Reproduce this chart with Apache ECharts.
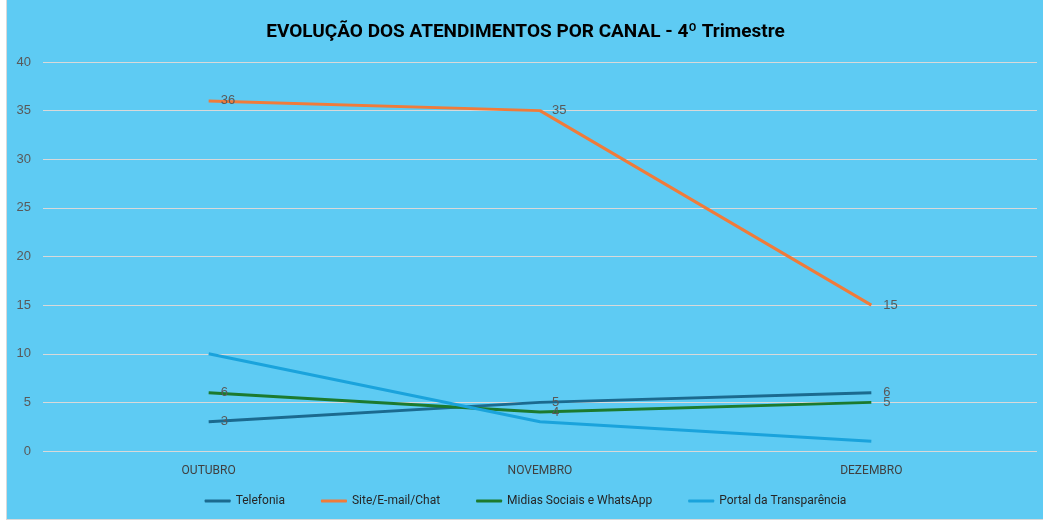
<!DOCTYPE html>
<html>
<head>
<meta charset="utf-8">
<script src="https://cdn.jsdelivr.net/npm/echarts@6/dist/echarts.min.js"></script>
<style>
  html, body { margin: 0; padding: 0; background: #fff; }
  #main { position: absolute; left: 6px; top: 0; width: 1037px; height: 519px;
          background: #5ECBF3; border-left: 1px solid #d9d9d9; border-bottom: 1px solid #d9d9d9; }
</style>
</head>
<body>
<div id="main"></div>
<script>
  var meses = ['OUTUBRO', 'NOVEMBRO', 'DEZEMBRO'];
  var telefonia = [3, 5, 6];
  var siteEmailChat = [36, 35, 15];
  var midiasSociais = [6, 4, 5];
  var portalTransparencia = [10, 3, 1];

  var myChart = echarts.init(document.getElementById('main'));

  function serie(nome, dados, cor, comLabel) {
    return {
      name: nome,
      type: 'line',
      data: dados,
      symbol: 'circle',
      symbolSize: 0,
      showSymbol: true,
      lineStyle: { width: 3, color: cor },
      itemStyle: { color: cor },
      label: {
        show: comLabel,
        position: 'right',
        distance: 12,
        color: '#595959',
        fontSize: 13,
        fontFamily: 'Liberation Sans'
      }
    };
  }

  var option = {
    animation: false,
    title: {
      text: 'EVOLUÇÃO DOS ATENDIMENTOS POR CANAL - 4º Trimestre',
      left: 'center',
      top: 18,
      textStyle: { fontSize: 19, fontWeight: 'bold', color: '#000', fontFamily: 'Roboto' }
    },
    legend: {
      bottom: 7,
      itemWidth: 26,
      itemHeight: 3,
      itemGap: 36,
      icon: 'roundRect',
      textStyle: { fontSize: 12, color: '#262626', fontFamily: 'Roboto' },
      data: ['Telefonia', 'Site/E-mail/Chat', 'Midias Sociais e WhatsApp', 'Portal da Transparência']
    },
    grid: { left: 36, right: 7, top: 62, bottom: 68 },
    xAxis: {
      type: 'category',
      data: meses,
      boundaryGap: true,
      axisLine: { show: false },
      axisTick: { show: false },
      axisLabel: { color: '#404040', fontSize: 12, margin: 14, fontFamily: 'Roboto' }
    },
    yAxis: {
      type: 'value',
      min: 0,
      max: 40,
      interval: 5,
      axisLabel: { color: '#595959', fontSize: 13, margin: 12, fontFamily: 'Liberation Sans' },
      splitLine: { lineStyle: { color: '#d9d9d9', width: 1 } }
    },
    series: [
      serie('Telefonia', telefonia, '#1B6A8F', true),
      serie('Site/E-mail/Chat', siteEmailChat, '#F07B3A', true),
      serie('Midias Sociais e WhatsApp', midiasSociais, '#1C7A2E', true),
      serie('Portal da Transparência', portalTransparencia, '#1AA3DC', false)
    ]
  };
  myChart.setOption(option);
</script>
</body>
</html>
